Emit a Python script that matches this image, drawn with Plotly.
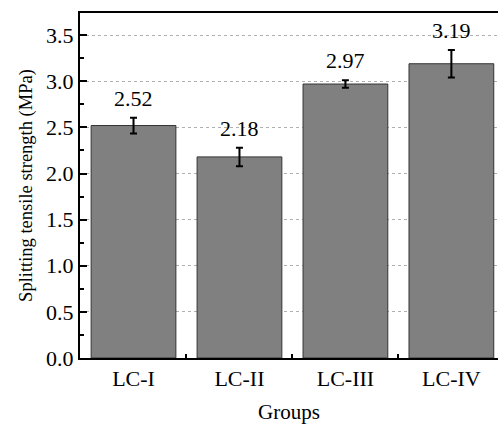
import plotly.graph_objects as go

groups = ["LC-I", "LC-II", "LC-III", "LC-IV"]
strength = [2.52, 2.18, 2.97, 3.19]
err = [0.085, 0.10, 0.04, 0.15]
labels = ["2.52", "2.18", "2.97", "3.19"]

FONT = "Liberation Serif"

fig = go.Figure()
fig.add_trace(go.Bar(
    x=groups, y=strength, width=0.8,
    marker=dict(color="#808080", line=dict(color="#333333", width=1)),
    error_y=dict(type="data", array=err, visible=True, color="black", thickness=2, width=3.5),
    showlegend=False,
))

for g, v, e, t in zip(groups, strength, err, labels):
    fig.add_annotation(x=g, y=v + e, text=t, showarrow=False, yanchor="bottom", yshift=5,
                       font=dict(family=FONT, size=22, color="black"))

fig.update_layout(
    width=498, height=425,
    margin=dict(l=80, r=0, t=13, b=67, autoexpand=False),
    paper_bgcolor="white", plot_bgcolor="white",
    font=dict(family=FONT, size=22, color="black"),
    bargap=0.2,
)
fig.update_xaxes(
    type="category", range=[-0.505, 3.44], automargin=False,
    showline=True, linecolor="black", linewidth=2, mirror=True,
    ticks="inside", ticklen=4, tickwidth=1.5, tickcolor="black", tickson="boundaries",
    showgrid=False,
    title=dict(text="Groups", font=dict(family=FONT, size=21), standoff=14),
    tickfont=dict(family=FONT, size=22),
)
fig.update_yaxes(
    range=[0, 3.74], dtick=0.5, tickformat=".1f", automargin=False,
    showline=True, linecolor="black", linewidth=2, mirror=False,
    ticks="inside", ticklen=7, tickwidth=2, tickcolor="black",
    minor=dict(dtick=0.25, ticks="inside", ticklen=4, tickwidth=1.5, tickcolor="black", showgrid=False),
    showgrid=True, gridcolor="#b0b0b0", griddash="dot", gridwidth=1,
    zeroline=False,
    title=dict(text="Splitting tensile strength (MPa)", font=dict(family=FONT, size=18.5), standoff=9),
    tickfont=dict(family=FONT, size=22),
)

fig.write_html("out.html", config={"displayModeBar": False},
               post_script="document.body.style.margin='0';")
